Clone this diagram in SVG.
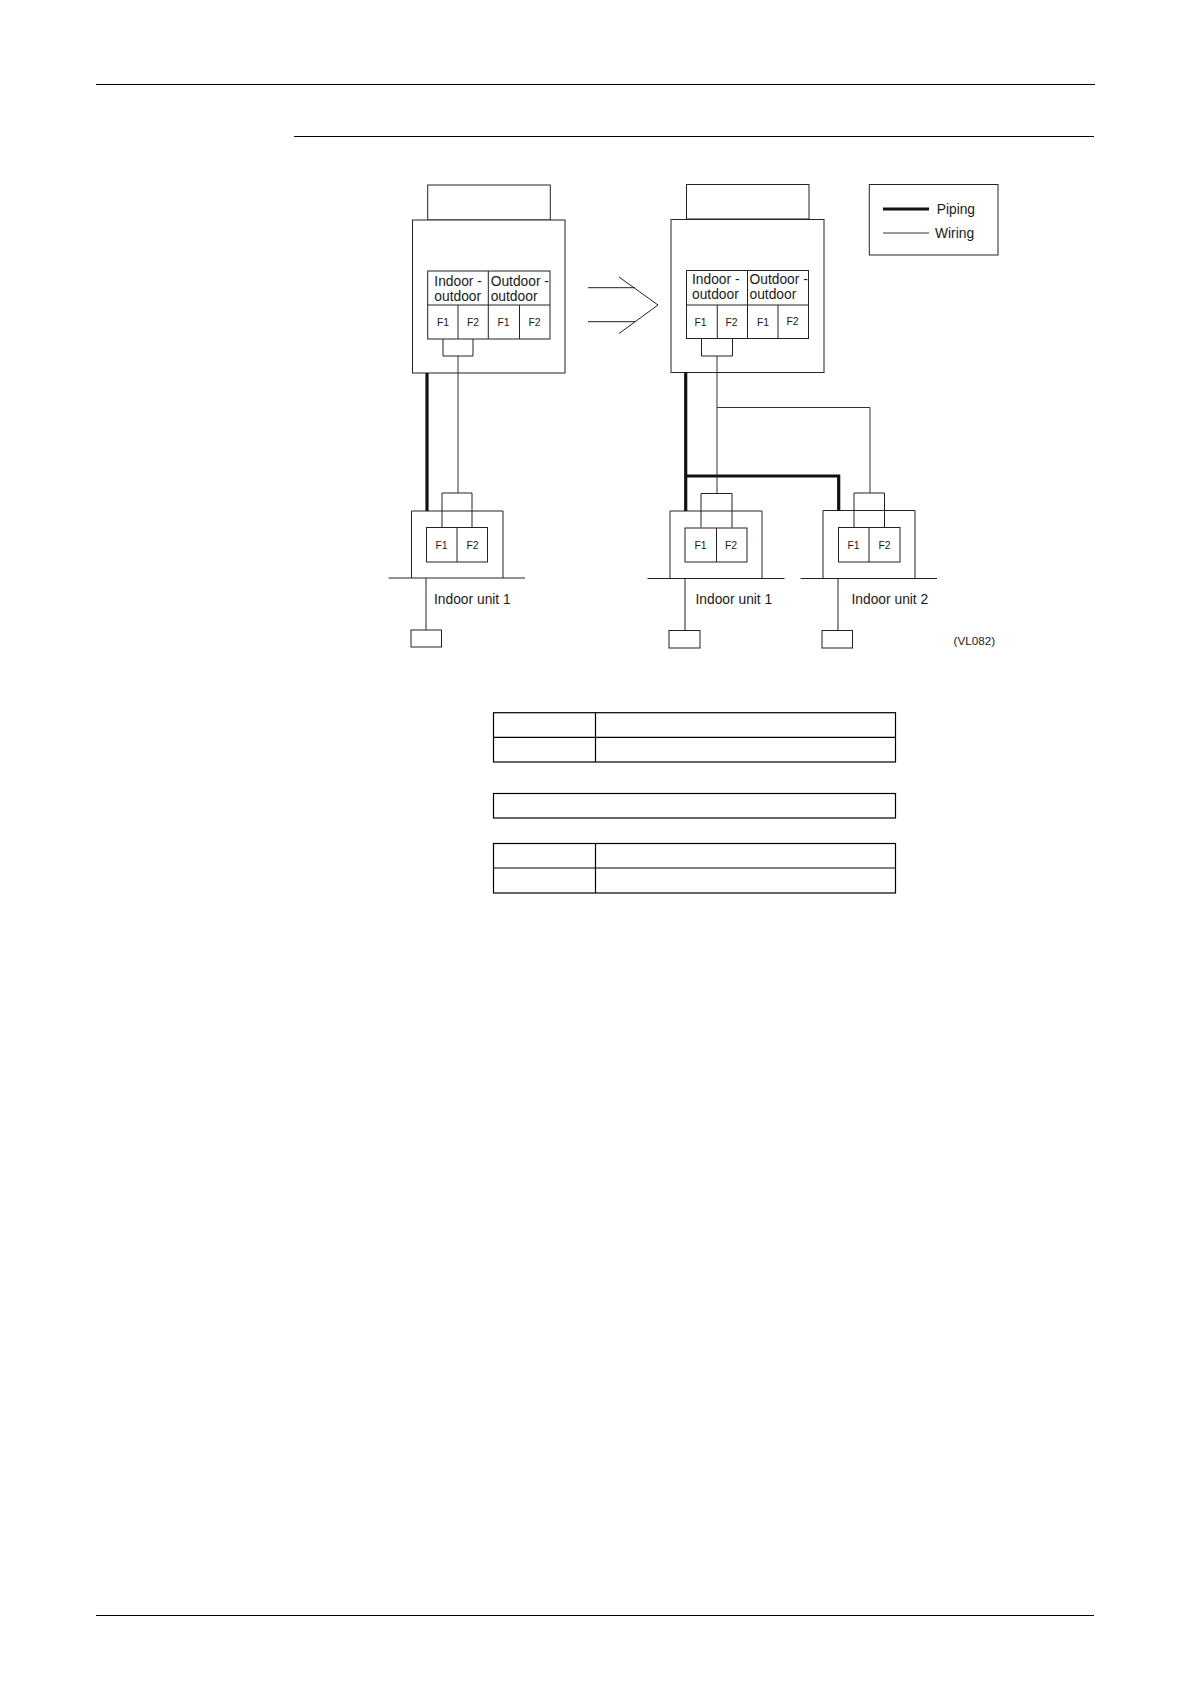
<svg xmlns="http://www.w3.org/2000/svg" width="1190" height="1684" viewBox="0 0 1190 1684">
<style>
text{font-family:"Liberation Sans",Arial,sans-serif;fill:#1a1a1a}
.lab{font-size:13.8px}
.f{font-size:10.4px;text-anchor:middle}
.box{fill:#fff;stroke:#222;stroke-width:1}
.open{fill:none;stroke:#222;stroke-width:1}
.wire{fill:none;stroke:#333;stroke-width:1}
.pipe{fill:none;stroke:#111;stroke-width:3.2}
.rule{stroke:#000;stroke-width:1.2;fill:none}
.cell{fill:#fff;stroke:#000;stroke-width:1.2}
</style>
<g id="page-rules">
<path class="rule" d="M96 84.5H1095M294 136.5H1094M96 1615.5H1094"/>
</g>
<g id="outdoor-left">
<rect class="box" x="427.7" y="185" width="122.6" height="35"/>
<rect class="box" x="412.5" y="220" width="152.5" height="153"/>
<rect class="box" x="427.7" y="271" width="122.3" height="68"/>
<path class="open" d="M427.7 305H550M488.3 271V339M458 305V339M519.5 305V339"/>
<text class="lab" x="434.3" y="285.5">Indoor -</text>
<text class="lab" x="434.3" y="301">outdoor</text>
<text class="lab" x="490.7" y="285.5">Outdoor -</text>
<text class="lab" x="490.7" y="301">outdoor</text>
<text class="f" x="443" y="326">F1</text>
<text class="f" x="473" y="326">F2</text>
<text class="f" x="503.5" y="326">F1</text>
<text class="f" x="534.5" y="326">F2</text>
<path class="open" d="M443 339V356H473V339"/>
</g>
<g id="outdoor-right">
<rect class="box" x="686.5" y="184.5" width="122.5" height="34.5"/>
<rect class="box" x="671" y="219.5" width="153" height="153"/>
<rect class="box" x="686.5" y="270.5" width="122" height="68"/>
<path class="open" d="M686.5 305H808.5M747.5 270.5V338.5M717.3 305V338.5M778 305V338.5"/>
<text class="lab" x="692" y="284">Indoor -</text>
<text class="lab" x="692" y="299">outdoor</text>
<text class="lab" x="749.5" y="284">Outdoor -</text>
<text class="lab" x="749.5" y="299">outdoor</text>
<text class="f" x="700.5" y="326">F1</text>
<text class="f" x="731.5" y="326">F2</text>
<text class="f" x="763" y="326">F1</text>
<text class="f" x="792.5" y="325">F2</text>
<path class="open" d="M701.5 339V356H732.5V339"/>
</g>
<g id="indoor-left">
<path class="open" d="M411.5 578V511H503V578"/>
<path class="open" d="M388.5 578H525"/>
<path class="open" d="M442 527.5V493H472V527.5"/>
<rect class="box" x="426.5" y="527.5" width="61" height="34.5"/>
<path class="open" d="M457 527.5V562"/>
<text class="f" x="441.5" y="549">F1</text>
<text class="f" x="472.5" y="549">F2</text>
<path class="open" d="M426 578V630"/>
<rect class="box" x="411" y="630" width="30.5" height="17"/>
<text class="lab" x="434" y="603.5">Indoor unit 1</text>
</g>
<g id="indoor-mid">
<path class="open" d="M670 578V511H762V578"/>
<path class="open" d="M647.5 578.5H784.5"/>
<path class="open" d="M701 527.5V493.5H732V527.5"/>
<rect class="box" x="685" y="528" width="62" height="34"/>
<path class="open" d="M716.5 528V562"/>
<text class="f" x="700.5" y="549">F1</text>
<text class="f" x="731" y="549">F2</text>
<path class="open" d="M685 578.5V630.5"/>
<rect class="box" x="669" y="630.5" width="31" height="17.5"/>
<text class="lab" x="695.5" y="603.5">Indoor unit 1</text>
</g>
<g id="indoor-right">
<path class="open" d="M823 578V510.5H915V578"/>
<path class="open" d="M800.5 578.5H937"/>
<path class="open" d="M854 527.5V493H884.5V527.5"/>
<rect class="box" x="838.5" y="527.5" width="61.5" height="34.5"/>
<path class="open" d="M869 527.5V562"/>
<text class="f" x="853.5" y="548.5">F1</text>
<text class="f" x="884.5" y="548.5">F2</text>
<path class="open" d="M838 578.5V630.5"/>
<rect class="box" x="822" y="630.5" width="30.5" height="17.5"/>
<text class="lab" x="851.5" y="603.5">Indoor unit 2</text>
</g>
<g id="connectors">
<path class="pipe" d="M427 373V511"/>
<path class="wire" d="M458 356V493"/>
<path class="pipe" d="M685.7 372.5V511M685.7 476H838.7V511"/>
<path class="wire" d="M717 356V493.5M717 407.5H870V493"/>
</g>
<g id="change-arrow">
<path class="open" d="M588 287.7H635M588 321.7H635M619 277L658 305L619 333.5"/>
</g>
<g id="legend">
<rect class="box" x="869.3" y="184.5" width="128.7" height="70.5"/>
<path class="pipe" d="M883 209H929"/>
<path class="wire" d="M883 233H929"/>
<text class="lab" x="936.7" y="214">Piping</text>
<text class="lab" x="935" y="238">Wiring</text>
</g>
<text id="ref" x="953.5" y="644.5" font-size="11.7">(VL082)</text>
<g id="table-1">
<rect class="cell" x="493.5" y="712.7" width="402" height="49.3"/>
<path class="rule" d="M493.5 737.3H895.5M595.5 712.7V762"/>
</g>
<g id="table-2">
<rect class="cell" x="493.5" y="793.5" width="402" height="24.5"/>
</g>
<g id="table-3">
<rect class="cell" x="493.5" y="843.5" width="402" height="49.5"/>
<path class="rule" d="M493.5 868H895.5M595.5 843.5V893"/>
</g>
</svg>
